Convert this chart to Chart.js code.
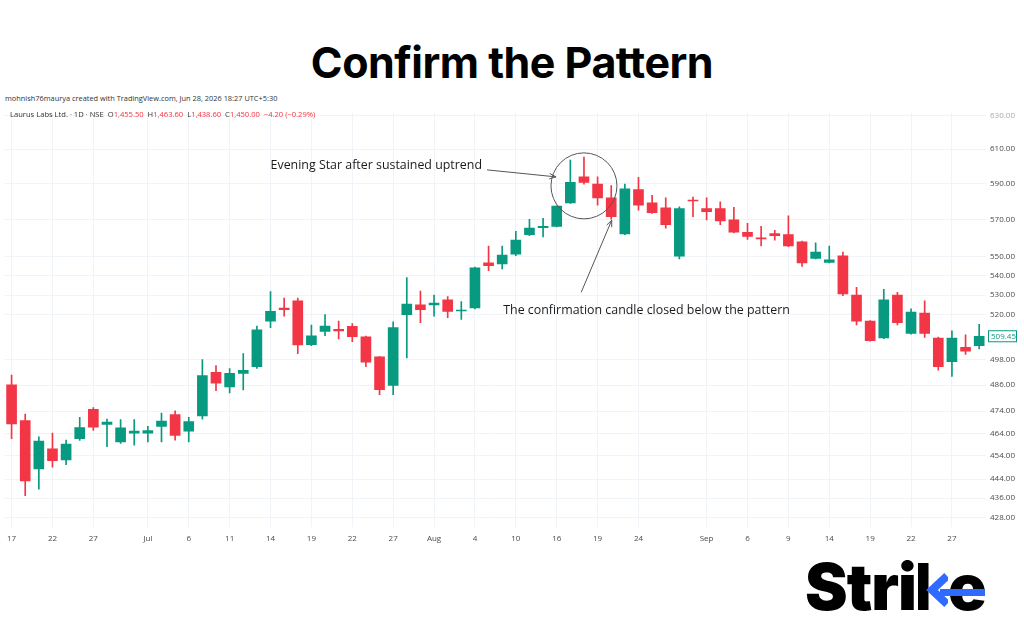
<!DOCTYPE html>
<html><head><meta charset="utf-8">
<script src="https://cdn.jsdelivr.net/npm/chart.js@4.4.1/dist/chart.umd.min.js"></script>
<style>
html,body{margin:0;padding:0;background:#fff;width:1024px;height:640px;overflow:hidden;}
#title{position:absolute;left:0;width:1024px;top:36px;text-align:center;font:700 43px Inter,sans-serif;color:#000;letter-spacing:-0.5px;}
#credit{position:absolute;left:5px;top:93px;font:7.4px "Open Sans",sans-serif;color:#333;white-space:nowrap;}
#legend{position:absolute;left:10px;top:109px;font:7.6px "Open Sans",sans-serif;color:#333;white-space:nowrap;z-index:2;}
#legend .r{color:#f23645}
#wrap{position:absolute;left:0;top:104px;width:1024px;height:446px;}
#logo{position:absolute;left:805px;top:548px;font:900 64px Inter,sans-serif;color:#000;letter-spacing:-1px;white-space:nowrap;}
#logo svg{vertical-align:baseline;margin-left:2px;}
#bar{position:absolute;background:#2f6bff;height:7px;}
</style></head>
<body>
<div id="title">Confirm the Pattern</div>
<div id="wrap"><canvas id="c" width="1024" height="446"></canvas></div>
<div id="credit">mohnish76maurya created with TradingView.com, Jun 28, 2026 18:27 UTC+5:30</div>
<div id="legend">Laurus Labs Ltd. · 1D · NSE &nbsp;O<span class="r">1,455.50</span> &nbsp;H<span class="r">1,463.60</span> &nbsp;L<span class="r">1,438.60</span> &nbsp;C<span class="r">1,450.00</span> &nbsp;<span class="r">−4.20 (−0.29%)</span></div>
<div id="logo"><span id="stri">Stri</span><svg width="30" height="47" viewBox="0 0 30 47"><rect x="0" y="0" width="10.5" height="47" fill="#000"/><polyline points="29,13 14,27 29,41" fill="none" stroke="#2f6bff" stroke-width="8"/></svg><span id="e">e</span></div>
<div id="bar"></div>
<script>
const tickText  = ['17','22','27','Jul','6','11','14','19','22','27','Aug','4','10','16','19','24','Sep','6','9','14','19','22','27'];
const tickIndex = [0,3,6,10,13,16,19,22,25,28,31,34,37,40,43,46,51,54,57,60,63,66,69];
const priceTicks = [428,436,444,454,464,474,486,498,520,530,540,550,570,590,610,630];

const openV  = [486.2,469.7,448.4,457.1,452.3,461.6,474.9,468.0,460.2,464.1,
                464.1,467.1,472.4,465.0,471.9,492.1,485.2,491.6,494.7,516.9,
                523.5,527.1,505.4,511.8,512.8,514.4,509.2,499.4,485.9,520.2,
                525.1,525.1,527.6,522.0,523.5,546.7,546.2,551.4,561.8,565.6,
                566.3,579.2,594.0,589.8,582.0,562.2,586.7,579.2,576.5,550.3,
                580.7,576.1,576.1,569.8,563.1,560.0,562.4,561.8,557.9,549.1,
                547.0,550.5,530.1,516.9,508.6,530.1,510.8,521.0,508.6,497.1,504.1,504.9];
const highV  = [490.8,472.7,462.4,464.1,461.0,471.2,475.6,470.4,470.2,470.2,
                467.1,473.1,474.2,471.2,498.1,495.3,493.9,501.0,514.5,531.8,
                528.5,528.5,515.0,520.2,516.9,515.7,509.5,499.6,516.6,539.0,
                532.1,530.1,529.3,526.8,544.5,555.7,555.7,563.6,570.2,570.7,
                577.6,603.6,605.4,594.0,589.0,589.8,593.6,583.4,582.1,577.0,
                582.5,582.1,579.8,576.8,568.0,566.3,564.1,572.0,558.3,557.4,
                555.7,552.5,534.0,517.2,533.0,531.5,523.1,527.1,509.0,512.1,510.2,515.3];
const lowV   = [461.6,437.0,439.7,449.1,450.2,460.8,465.3,458.1,459.5,458.8,
                460.2,460.2,461.0,460.2,470.4,483.5,482.4,483.8,493.9,513.7,
                519.4,501.0,504.9,509.7,508.1,506.8,494.7,481.6,481.6,498.9,
                516.1,519.4,518.6,517.8,523.0,542.7,543.6,550.5,561.3,560.6,
                566.0,578.9,589.8,578.0,570.2,561.8,575.2,573.4,565.3,548.8,
                571.6,569.8,567.2,562.7,559.2,555.7,558.8,555.3,544.9,548.8,
                546.7,529.7,515.0,507.0,508.3,515.0,510.5,508.9,493.1,490.1,500.6,503.3];
const closeV = [468.2,443.2,460.6,451.9,459.2,466.6,466.8,469.0,466.5,465.0,
                465.2,469.5,463.1,469.3,490.5,487.0,491.6,493.0,512.6,521.8,
                522.7,505.2,509.7,514.5,512.1,509.2,496.9,483.9,513.7,525.5,
                522.7,526.0,521.8,522.5,544.1,545.3,550.8,558.8,565.3,566.3,
                577.4,590.8,590.8,582.0,571.6,587.1,578.0,573.8,567.2,576.1,
                580.3,574.3,569.3,563.1,560.9,559.5,561.3,555.7,546.7,552.5,
                548.4,530.6,516.9,507.3,527.6,516.1,521.5,510.8,494.7,508.6,502.2,509.45];

// logo bar across the "e"
(function(){
  const r = document.getElementById('e').getBoundingClientRect();
  const base = r.top + 0.969 * 64;
  const b = document.getElementById('bar');
  b.style.left = (r.left - 8) + 'px';
  b.style.width = (r.right - r.left + 7) + 'px';
  b.style.top = (base - 21) + 'px';
})();

const UP = '#089981', DOWN = '#f23645';
const labels = openV.map(() => '');
tickIndex.forEach((k, i) => { labels[k] = tickText[i]; });
const colors = openV.map((o, i) => closeV[i] >= o ? UP : DOWN);
const bodies = openV.map((o, i) => [Math.min(o, closeV[i]), Math.max(o, closeV[i])]);
const wicks  = lowV.map((l, i) => [l, highV[i]]);

const annot = {
  id: 'annot',
  afterDraw(chart) {
    const {ctx, scales: {x, y}, chartArea} = chart;
    ctx.save();
    const cx = x.getPixelForValue(42), cy = y.getPixelForValue(588.8);
    ctx.strokeStyle = '#555'; ctx.lineWidth = 1;
    ctx.beginPath(); ctx.arc(cx, cy, 33, 0, Math.PI * 2); ctx.stroke();
    const arrow = (x0, y0, x1, y1) => {
      ctx.beginPath(); ctx.moveTo(x0, y0); ctx.lineTo(x1, y1); ctx.stroke();
      const a = Math.atan2(y1 - y0, x1 - x0), L = 7;
      ctx.beginPath();
      ctx.moveTo(x1 - L * Math.cos(a - 0.4), y1 - L * Math.sin(a - 0.4));
      ctx.lineTo(x1, y1);
      ctx.lineTo(x1 - L * Math.cos(a + 0.4), y1 - L * Math.sin(a + 0.4));
      ctx.stroke();
    };
    ctx.fillStyle = '#1a1a1a';
    ctx.font = '12.4px "Open Sans", sans-serif';
    ctx.textBaseline = 'middle';
    ctx.textAlign = 'right';
    ctx.fillText('Evening Star after sustained uptrend', cx - 102, cy - 20);
    arrow(cx - 97, cy - 16, cx - 28, cy - 9);
    const tx = x.getPixelForValue(44), ty = y.getPixelForValue(lowV[44]);
    arrow(tx - 30, ty + 73, tx + 0.5, ty + 1);
    ctx.textAlign = 'left';
    ctx.fillText('The confirmation candle closed below the pattern', tx - 108, ty + 91);
    const last = closeV[closeV.length - 1];
    const py = y.getPixelForValue(last), px = chartArea.right + 2;
    ctx.fillStyle = '#fff'; ctx.fillRect(px, py - 6, 29, 12);
    ctx.strokeStyle = UP; ctx.strokeRect(px + 0.5, py - 5.5, 28, 11);
    ctx.fillStyle = UP; ctx.font = '8px "Open Sans", sans-serif';
    ctx.fillText(last.toFixed(2), px + 3, py + 0.5);
    ctx.restore();
  }
};

new Chart(document.getElementById('c'), {
  type: 'bar',
  data: {
    labels,
    datasets: [
      {data: bodies, backgroundColor: colors, barThickness: 10, minBarLength: 1, order: 0, grouped: false},
      {data: wicks, backgroundColor: colors, barThickness: 1, order: 1, grouped: false}
    ]
  },
  options: {
    responsive: false, animation: false, events: [],
    layout: {padding: {left: 1, right: 0, top: 0, bottom: 0}},
    plugins: {legend: {display: false}, tooltip: {enabled: false}},
    scales: {
      x: {
        offset: true,
        grid: {offset: false, color: '#f0f3f7', drawTicks: false},
        border: {display: false},
        ticks: {
          autoSkip: false, maxRotation: 0, padding: 7, color: '#4a4a4a',
          font: {family: '"Open Sans", sans-serif', size: 8},
          callback: (v, i) => labels[i] === '' ? null : labels[i]
        },
        afterFit: s => { s.height = 23; }
      },
      y: {
        type: 'logarithmic', position: 'right', bounds: 'data',
        min: 424.0, max: 631.7,
        grid: {color: '#f0f3f7', drawTicks: false},
        border: {display: false},
        afterBuildTicks: s => { s.ticks = priceTicks.map(v => ({value: v})); },
        ticks: {
          padding: 4, color: c => c.tick && c.tick.value === 630 ? '#aaa' : '#4a4a4a',
          font: {family: '"Open Sans", sans-serif', size: 8},
          callback: v => Number(v).toFixed(2)
        },
        afterFit: s => { s.width = 38; }
      }
    }
  },
  plugins: [annot]
});
</script>
</body></html>
